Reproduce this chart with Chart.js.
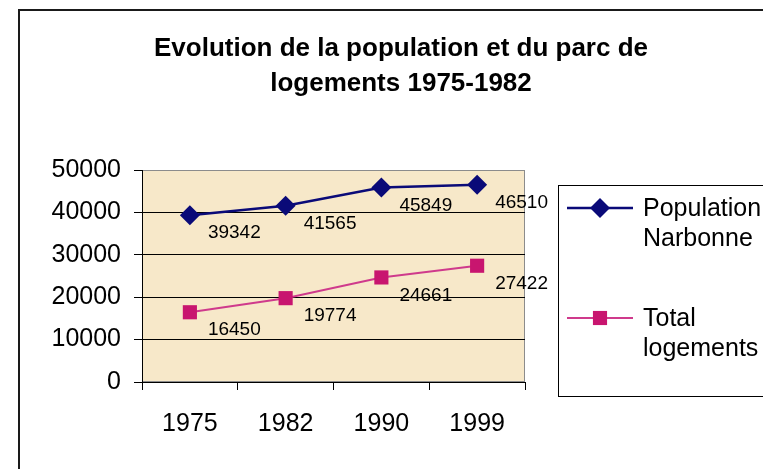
<!DOCTYPE html>
<html>
<head>
<meta charset="utf-8">
<script src="https://cdn.jsdelivr.net/npm/chart.js@4/dist/chart.umd.min.js"></script>
<style>
  html, body { margin: 0; padding: 0; background: #ffffff; }
  #wrap { width: 763px; height: 469px; }
</style>
</head>
<body>
<div id="wrap"><canvas id="c" width="763" height="469"></canvas></div>
<script>
// Recensements : population de Narbonne et parc de logements
const years = ['1975', '1982', '1990', '1999'];
const population = [39342, 41565, 45849, 46510];
const logements = [16450, 19774, 24661, 27422];
const seriesNames = [['Population', 'Narbonne'], ['Total', 'logements']];
const titleLines = ['Evolution de la population et du parc de', 'logements 1975-1982'];
const yTicks = [0, 10000, 20000, 30000, 40000, 50000];

const FONT = '"Liberation Sans", Arial, Helvetica, sans-serif';
const NAVY = '#0a0a78';
const PINK_LINE = '#cf3a8c';
const PINK_MARK = '#c8156f';
const PLOT_BG = '#f7e8c9';

function drawMarker(ctx, style, x, y, r, color) {
  ctx.save();
  ctx.fillStyle = color;
  ctx.beginPath();
  if (style === 'rectRot') {
    ctx.moveTo(x, y - r);
    ctx.lineTo(x + r, y);
    ctx.lineTo(x, y + r);
    ctx.lineTo(x - r, y);
  } else {
    const s = r * Math.SQRT1_2;
    ctx.rect(x - s, y - s, 2 * s, 2 * s);
  }
  ctx.closePath();
  ctx.fill();
  ctx.restore();
}

// Frame, title and plot background
const backdrop = {
  id: 'backdrop',
  beforeDraw(chart) {
    const ctx = chart.ctx;
    const a = chart.chartArea;
    ctx.save();
    ctx.fillStyle = '#ffffff';
    ctx.fillRect(0, 0, chart.width, chart.height);
    ctx.strokeStyle = '#1a1a1a';
    ctx.lineWidth = 2;
    ctx.strokeRect(19, 10, chart.width + 20, chart.height + 20);

    ctx.fillStyle = PLOT_BG;
    ctx.fillRect(a.left, a.top, a.right - a.left, a.bottom - a.top);
    ctx.strokeStyle = '#8c8c8c';
    ctx.lineWidth = 1;
    ctx.strokeRect(a.left + 0.5, a.top + 0.5, a.right - a.left - 1, a.bottom - a.top - 1);

    ctx.fillStyle = '#000000';
    ctx.font = 'bold 26px ' + FONT;
    ctx.textAlign = 'center';
    ctx.textBaseline = 'alphabetic';
    ctx.fillText(titleLines[0], 401, 56);
    ctx.fillText(titleLines[1], 401, 91);
    ctx.restore();
  }
};

// Value labels beside each point
const valueLabels = {
  id: 'valueLabels',
  afterDatasetsDraw(chart) {
    const ctx = chart.ctx;
    ctx.save();
    ctx.font = '19px ' + FONT;
    ctx.fillStyle = '#000000';
    ctx.textAlign = 'left';
    ctx.textBaseline = 'middle';
    chart.data.datasets.forEach((ds, i) => {
      chart.getDatasetMeta(i).data.forEach((pt, j) => {
        ctx.fillText(String(ds.data[j]), pt.x + 18, pt.y + 18);
      });
    });
    ctx.restore();
  }
};

// Boxed legend on the right
const sideLegend = {
  id: 'sideLegend',
  afterDraw(chart) {
    const ctx = chart.ctx;
    ctx.save();
    ctx.strokeStyle = '#000000';
    ctx.lineWidth = 1;
    ctx.strokeRect(558.5, 185.5, 220, 211);
    const rows = [208, 318];
    ctx.font = '25px ' + FONT;
    ctx.textAlign = 'left';
    ctx.textBaseline = 'middle';
    chart.data.datasets.forEach((ds, i) => {
      const y = rows[i];
      ctx.strokeStyle = ds.borderColor;
      ctx.lineWidth = ds.borderWidth;
      ctx.beginPath();
      ctx.moveTo(567, y);
      ctx.lineTo(633, y);
      ctx.stroke();
      drawMarker(ctx, ds.pointStyle, 600, y, ds.pointRadius, ds.pointBackgroundColor);
      ctx.fillStyle = '#000000';
      ctx.fillText(seriesNames[i][0], 643, y + 1);
      ctx.fillText(seriesNames[i][1], 643, y + 31);
    });
    ctx.restore();
  }
};

new Chart(document.getElementById('c'), {
  type: 'line',
  data: {
    labels: years,
    datasets: [
      {
        label: seriesNames[0].join(' '),
        data: population,
        borderColor: NAVY,
        borderWidth: 2.5,
        pointStyle: 'rectRot',
        pointRadius: 10,
        pointBackgroundColor: NAVY,
        pointBorderColor: NAVY,
        pointBorderWidth: 0,
        tension: 0
      },
      {
        label: seriesNames[1].join(' '),
        data: logements,
        borderColor: PINK_LINE,
        borderWidth: 2,
        pointStyle: 'rect',
        pointRadius: 10,
        pointBackgroundColor: PINK_MARK,
        pointBorderColor: PINK_MARK,
        pointBorderWidth: 0,
        tension: 0
      }
    ]
  },
  options: {
    responsive: false,
    animation: false,
    events: [],
    layout: { padding: { top: 170, right: 238, bottom: 0, left: 0 } },
    plugins: {
      legend: { display: false },
      title: { display: false },
      tooltip: { enabled: false }
    },
    scales: {
      x: {
        type: 'category',
        offset: true,
        afterFit(scale) { scale.height = 87; },
        grid: {
          offset: true,
          drawOnChartArea: false,
          drawTicks: true,
          tickLength: 8,
          tickColor: '#000000'
        },
        border: { color: '#000000', width: 1 },
        ticks: {
          color: '#000000',
          font: { family: FONT, size: 25 },
          padding: 19,
          maxRotation: 0
        }
      },
      y: {
        min: 0,
        max: 50000,
        afterFit(scale) { scale.width = 142; },
        afterBuildTicks(scale) { scale.ticks = yTicks.map(v => ({ value: v })); },
        grid: {
          color: (c) => (c.tick && c.tick.value === 50000 ? '#8c8c8c' : '#000000'),
          lineWidth: 1,
          tickLength: 8,
          tickColor: '#000000'
        },
        border: { color: '#000000', width: 1 },
        ticks: {
          color: '#000000',
          font: { family: FONT, size: 25 },
          padding: 13,
          callback: (v) => String(v)
        }
      }
    }
  },
  plugins: [backdrop, valueLabels, sideLegend]
});
</script>
</body>
</html>
